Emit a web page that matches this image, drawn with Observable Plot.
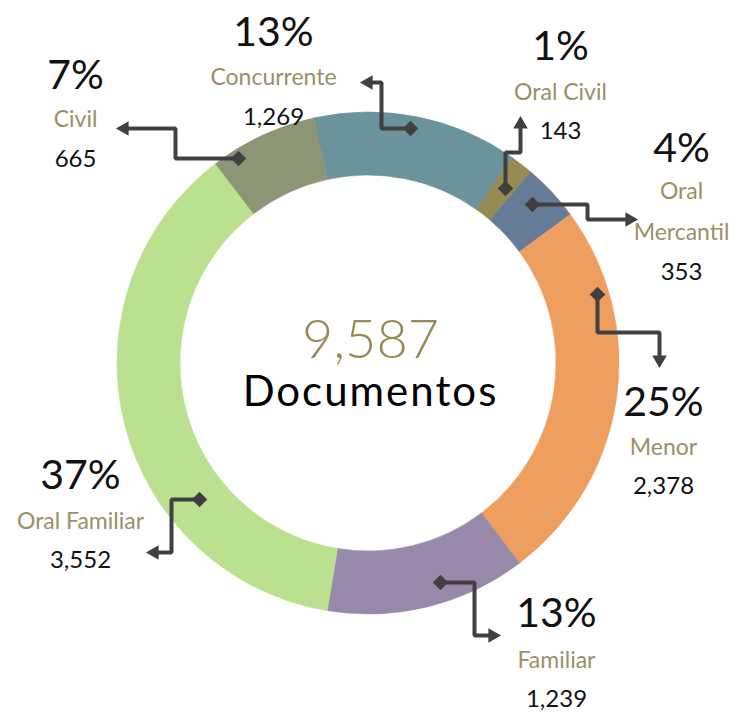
<!DOCTYPE html>
<html><head><meta charset="utf-8">
<script src="https://cdn.jsdelivr.net/npm/d3@7"></script>
<script src="https://cdn.jsdelivr.net/npm/@observablehq/plot@0.6"></script>
<style>body{margin:0;background:#fff}</style>
</head><body><div id="chart"></div>
<script>
// ---- data ----
const categories = ["Concurrente", "Oral Civil", "Oral Mercantil", "Menor", "Familiar", "Oral Familiar", "Civil"];
const nameLabels = ["Concurrente", "Oral Civil", "Oral\nMercantil", "Menor", "Familiar", "Oral Familiar", "Civil"];
const values = [1269, 143, 353, 2378, 1239, 3552, 665];
const percentLabels = ["13%", "1%", "4%", "25%", "13%", "37%", "7%"];
const valueLabels = ["1,269", "143", "353", "2,378", "1,239", "3,552", "665"];
const totalLabel = "9,587";
const centerLabel = "Documentos";
const colors = ["#6B939B", "#968B55", "#667B98", "#EE9F5F", "#9889AB", "#BBE190", "#8C9674"];

// ---- layout (annotation placement) ----
const W = 734, H = 712;
const C = {x: 368, y: 363, rOuter: 251, rInner: 188, start: -12.5};
const labelX = [273, 560, 681, 663, 556, 80, 75];
const pctY = [45, 59, 161, 415, 626, 488, 88];
const nameGap = [39, 40, 78, 39, 41, 40, 38];
const valGap = [40, 39, 40, 39, 39, 39, 40];
const connectors = [
  [[410,128],[381,128],[381,82],[357,82]],
  [[505,188],[505,152],[520,152],[520,113]],
  [[532,204],[587,204],[587,219],[640,219]],
  [[597,294],[597,332],[659,332],[659,370]],
  [[440,582],[474,582],[474,635],[503,635]],
  [[199,499],[171,499],[171,552],[143,552]],
  [[238,158],[175,158],[175,128],[113,128]]
];

const labelColor = "#9A9066";
const lineColor = "#404040";
const font = "Lato, 'DejaVu Sans', sans-serif";

// build tables
const rows = categories.map((c, i) => ({
  category: c, value: values[i], color: colors[i],
  name: nameLabels[i], pct: percentLabels[i], val: valueLabels[i],
  x: labelX[i], yPct: pctY[i], yName: pctY[i] + nameGap[i], yVal: pctY[i] + nameGap[i] + valGap[i]
}));

const headR = 7;
const headOff = 2 * headR * Math.sqrt(Math.PI / (3 * Math.sqrt(3)));
const linePts = [], heads = [], diamonds = [];
connectors.forEach((pts, k) => {
  const n = pts.length;
  const [tx, ty] = pts[n-1], [px, py] = pts[n-2];
  const dx = Math.sign(tx - px), dy = Math.sign(ty - py);
  const trimmed = pts.slice(0, n-1).concat([[tx - dx*(headOff + 2), ty - dy*(headOff + 2)]]);
  trimmed.forEach(([x, y]) => linePts.push({k, x, y}));
  const rot = dx > 0 ? 90 : dx < 0 ? -90 : dy > 0 ? 180 : 0;
  heads.push({x: tx - dx*headOff, y: ty - dy*headOff, rot});
  diamonds.push({x: pts[0][0], y: pts[0][1]});
});

function donut(index, scales) {
  const cx = scales.x(C.x), cy = scales.y(C.y);
  const a0 = C.start * Math.PI / 180;
  const arcs = d3.pie().sort(null).value(d => d.value).startAngle(a0).endAngle(a0 + 2*Math.PI)(rows);
  const arc = d3.arc().innerRadius(C.rInner).outerRadius(C.rOuter);
  const g = d3.create("svg:g").attr("transform", `translate(${cx},${cy})`);
  g.selectAll("path").data(arcs).join("path")
    .attr("d", arc).attr("fill", d => d.data.color)
    .attr("stroke", d => d.data.color).attr("stroke-width", 0.6);
  return g.node();
}

const chart = Plot.plot({
  width: W, height: H,
  margin: 0,
  x: {domain: [0, W], range: [0, W], axis: null},
  y: {domain: [0, H], range: [0, H], axis: null},
  style: {fontFamily: font, background: "#fff"},
  marks: [
    donut,
    Plot.line(linePts, {x: "x", y: "y", z: "k", stroke: lineColor, strokeWidth: 4, strokeLinejoin: "miter", strokeLinecap: "butt"}),
    Plot.dot(heads, {x: "x", y: "y", symbol: "triangle2", r: headR, fill: lineColor, rotate: "rot"}),
    Plot.dot(diamonds, {x: "x", y: "y", symbol: "diamond2", r: 7, fill: lineColor}),
    Plot.text(rows, {x: "x", y: "yPct", text: "pct", fontSize: 41, fill: "#111", lineAnchor: "bottom"}),
    Plot.text(rows, {x: "x", y: "yName", text: "name", fontSize: 23, fill: labelColor, lineAnchor: "bottom", lineHeight: 1.74}),
    Plot.text(rows, {x: "x", y: "yVal", text: "val", fontSize: 24, fill: "#111", lineAnchor: "bottom"}),
    Plot.text([totalLabel], {x: 370, y: 357, text: d => d, fontSize: 54, fontWeight: 300, fill: "#968B55", lineAnchor: "bottom"}),
    Plot.text([centerLabel], {x: 370, y: 405, text: d => d, fontSize: 42, fill: "#000", lineAnchor: "bottom"})
  ]
});
chart.querySelectorAll("text").forEach(t => { if (t.textContent === centerLabel) t.setAttribute("letter-spacing", "2"); });
document.getElementById("chart").appendChild(chart);
</script>
</body></html>
